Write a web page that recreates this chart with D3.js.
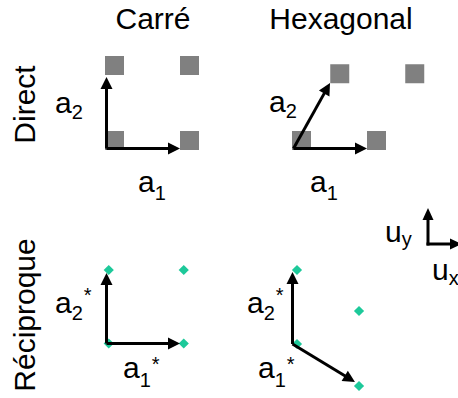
<!DOCTYPE html>
<html>
<head>
<meta charset="utf-8">
<script src="https://cdn.jsdelivr.net/npm/d3@7"></script>
<style>
  html, body { margin: 0; padding: 0; background: #fff; }
  text { font-family: "Liberation Sans", Arial, sans-serif; fill: #000; }
</style>
</head>
<body>
<script>
// ---------- data ----------
const columnTitles = ["Carré", "Hexagonal"];
const rowTitles = ["Direct", "Réciproque"];

// lattice points (in lattice units)
const directSquarePts = [[0, 0], [1, 0], [0, 1], [1, 1]];
const directHexPts = [[0, 0], [1, 0], [0.51, 0.89], [1.51, 0.89]];
const recipSquarePts = [[0.05, 0.02], [1.05, 0.02], [0.05, 1.0], [1.05, 1.0]];
const recipHexPts = [[0.08, 0.02], [0.907, -0.54], [0.907, 0.46], [0.08, 1.007]];

// basis vectors
const directSquareVecs = [[0.98, 0], [0, 0.953]];
const directHexVecs = [[0.98, 0], [0.487, 0.873]];
const recipSquareVecs = [[0.98, 0], [0, 0.94]];
const recipHexVecs = [[0.833, -0.507], [0, 0.96]];

// vector labels: [main, subscript, superscript]
const directLabels = [["a", "1", ""], ["a", "2", ""]];
const recipLabels = [["a", "1", "*"], ["a", "2", "*"]];
const unitLabels = [["u", "x"], ["u", "y"]];

// ---------- drawing ----------
const W = 458, H = 398;
const svg = d3.select("body").append("svg").attr("width", W).attr("height", H);

function arrow(g, x1, y1, x2, y2, head = 12, hw = 6) {
  const dx = x2 - x1, dy = y2 - y1, L = Math.hypot(dx, dy);
  const ux = dx / L, uy = dy / L;
  const bx = x2 - ux * head, by = y2 - uy * head;
  g.append("line").attr("x1", x1).attr("y1", y1).attr("x2", bx + ux).attr("y2", by + uy)
    .attr("stroke", "#000").attr("stroke-width", 3);
  g.append("path")
    .attr("d", d3.line()([[x2, y2], [bx - uy * hw, by + ux * hw], [bx + uy * hw, by - ux * hw]]) + "Z")
    .attr("fill", "#000");
}

function label(g, x, y, lab, subDy = 8, supDy = -17) {
  const t = g.append("text").attr("x", x).attr("y", y).style("font-size", "30px");
  t.append("tspan").text(lab[0]);
  t.append("tspan").attr("dy", subDy).style("font-size", "20px").text(lab[1]);
  if (lab[2]) t.append("tspan").attr("dy", supDy).attr("dx", 1).style("font-size", "20px").text(lab[2]);
}

const unit = 75;
function panel(ox, oy, pts, vecs, kind) {
  const x = d3.scaleLinear().domain([0, 1]).range([ox, ox + unit]);
  const y = d3.scaleLinear().domain([0, 1]).range([oy, oy - unit]);
  const g = svg.append("g");
  if (kind === "square") {
    g.selectAll("rect").data(pts).join("rect")
      .attr("x", d => x(d[0])).attr("y", d => y(d[1]) - 19)
      .attr("width", 19).attr("height", 19).attr("fill", "#808080");
  } else {
    g.selectAll("path.pt").data(pts).join("path").attr("class", "pt")
      .attr("d", d3.symbol().type(d3.symbolSquare).size(52)())
      .attr("transform", d => `translate(${x(d[0])},${y(d[1])}) rotate(45)`)
      .attr("fill", "#1dc99a");
  }
  vecs.forEach(v => arrow(g, x(0) + 1.5, y(0) - 1.5, x(v[0]) + 1.5, y(v[1]) - 1.5));
  return g;
}

// column titles
const titleX = d3.scalePoint().domain(columnTitles).range([153, 341]);
svg.selectAll("text.col").data(columnTitles).join("text").attr("class", "col")
  .attr("x", d => titleX(d)).attr("y", 29).attr("text-anchor", "middle")
  .style("font-size", "30px").text(d => d);

// row titles
const rowY = d3.scalePoint().domain(rowTitles).range([104.5, 315]);
svg.selectAll("text.row").data(rowTitles).join("text").attr("class", "row")
  .attr("transform", d => `translate(35,${rowY(d)}) rotate(-90)`)
  .attr("text-anchor", "middle").style("font-size", "30px").text(d => d);

// panels
const g1 = panel(105, 150, directSquarePts, directSquareVecs, "square");
label(g1, 138, 192, directLabels[0]);
label(g1, 55, 113, directLabels[1], 6);

const g2 = panel(292, 150, directHexPts, directHexVecs, "square");
label(g2, 310, 192, directLabels[0]);
label(g2, 269, 112, directLabels[1], 6);

const g3 = panel(105, 345, recipSquarePts, recipSquareVecs, "diamond");
label(g3, 123, 378, recipLabels[0], 9, -16);
label(g3, 55, 313, recipLabels[1], 7, -18);

const g4 = panel(291, 345.5, recipHexPts, recipHexVecs, "diamond");
label(g4, 258, 378, recipLabels[0], 9, -16);
label(g4, 247, 313, recipLabels[1], 7, -18);

// unit axes legend
const gu = svg.append("g");
arrow(gu, 428, 245.5, 428, 208, 12, 5.5);
arrow(gu, 426.5, 244, 462, 244, 12, 5.5);
const tx = gu.append("text").attr("x", 432).attr("y", 280).style("font-size", "30px");
tx.append("tspan").text(unitLabels[0][0]);
tx.append("tspan").attr("dy", 5).style("font-size", "20px").text(unitLabels[0][1]);
const ty = gu.append("text").attr("x", 385).attr("y", 242).style("font-size", "30px");
ty.append("tspan").text(unitLabels[1][0]);
ty.append("tspan").attr("dy", 4).style("font-size", "20px").text(unitLabels[1][1]);
</script>
</body>
</html>
